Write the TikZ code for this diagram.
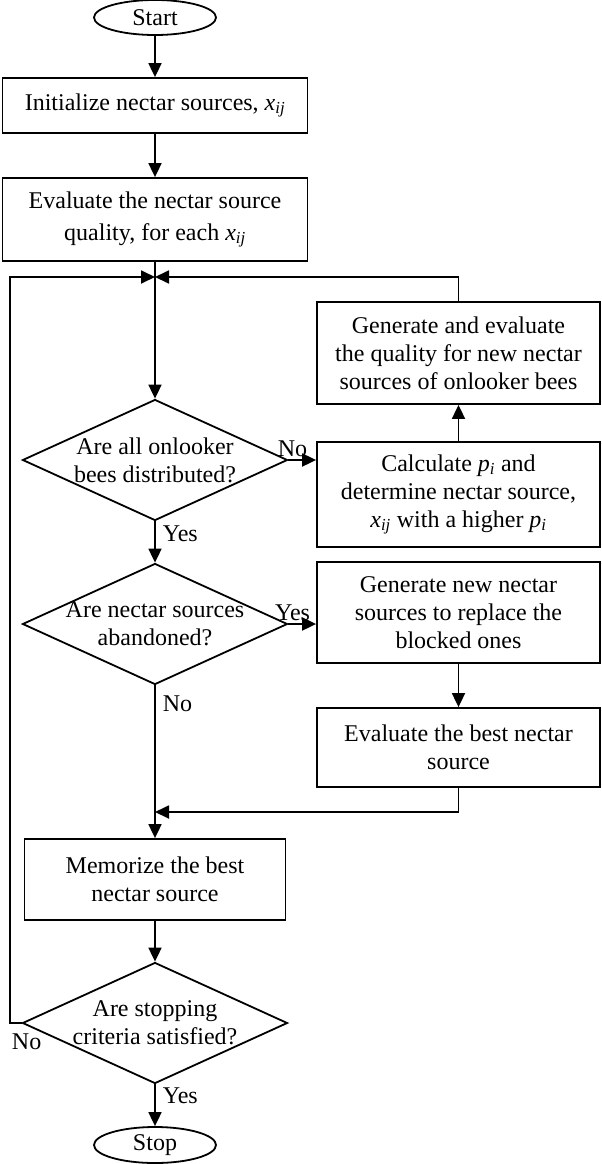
\documentclass[tikz,border=0pt]{standalone}
\usepackage{fontspec}
\setmainfont{Liberation Serif}
\usetikzlibrary{shapes.geometric, arrows.meta}

\newcommand{\xij}{\textit{x}\textsubscript{\textit{ij}}}
\newcommand{\pvar}{\textit{p}\textsubscript{\textit{i}}}

\begin{document}
\begin{tikzpicture}[
        x=1pt, y=-1pt,
        every node/.style={font=\fontsize{24}{28}\selectfont},
        proc/.style={rectangle, draw, line width=1.8pt, inner sep=0pt, align=center},
        side/.style={proc, minimum width=283pt},
        decision/.style={diamond, draw, line width=1.8pt, inner sep=-4pt, shape aspect=2.2, minimum width=265pt, minimum height=121pt, align=center},
        term/.style={ellipse, draw, line width=1.8pt, inner sep=0pt, minimum width=122pt, minimum height=35pt},
        arr/.style={-{Triangle[length=14pt, width=13pt]}, line width=1.8pt},
        lbl/.style={inner sep=2pt},
    ]
        \useasboundingbox (0,0) rectangle (602,1164);

        % main column
        \node[term] (start) at (155,17.5) {Start};
        \node[proc, minimum width=305pt, minimum height=55pt] (init) at (155,105.5) {Initialize nectar sources, \xij};
        \node[proc, minimum width=305pt, minimum height=83pt] (evalq) at (155,219.5) {Evaluate the nectar source\\[4pt]quality, for each \xij};
        \coordinate (merge) at (155,277);
        \node[decision] (dist) at (155,460) {Are all onlooker\\bees distributed?};
        \node[decision] (aband) at (155,624) {Are nectar sources\\abandoned?};
        \coordinate (join) at (155,812);
        \node[proc, minimum width=261pt, minimum height=81pt] (memo) at (155,879.5) {Memorize the best\\nectar source};
        \node[decision] (stopq) at (155,1023) {Are stopping\\criteria satisfied?};
        \node[term, minimum height=36pt] (stop) at (155,1145) {Stop};

        % right column
        \node[side, minimum height=102pt] (geneval) at (458.5,353) {Generate and evaluate\\the quality for new nectar\\sources of onlooker bees};
        \node[side, minimum height=105pt] (calc) at (458.5,494.5) {Calculate \pvar{} and\\determine nectar source,\\\xij{} with a higher \pvar};
        \node[side, minimum height=101pt] (gennew) at (458.5,612.5) {Generate new nectar\\sources to replace the\\blocked ones};
        \node[side, minimum height=79pt] (evalbest) at (458.5,747.5) {Evaluate the best nectar\\source};

        \draw[arr] (start) -- (init);
        \draw[arr] (init) -- (evalq);
        \draw[arr] (evalq) -- (dist);
        \draw[arr] (dist.east) -- node[lbl, pos=0.15, above]{No} (calc.west |- dist.east);
        \draw[arr] (calc) -- (geneval);
        \draw[arr] (geneval.north) |- (merge);
        \draw[arr] (dist.south) -- node[lbl, pos=0.3, right=5pt]{Yes} (aband.north);
        \draw[arr] (aband.east) -- node[lbl, pos=0.15, above]{Yes} (gennew.west |- aband.east);
        \draw[arr] (gennew) -- (evalbest);
        \draw[arr] (evalbest.south) |- (join);
        \draw[arr] (aband.south) -- node[lbl, pos=0.12, right=5pt]{No} (memo.north);
        \draw[arr] (memo) -- (stopq);
        \draw[arr] (stopq.west) -- node[lbl, pos=0, below=8pt, xshift=5pt]{No} ++(-12,0) |- (merge);
        \draw[arr] (stopq.south) -- node[lbl, pos=0.27, right=5pt]{Yes} (stop.north);
    \end{tikzpicture}
\end{document}
